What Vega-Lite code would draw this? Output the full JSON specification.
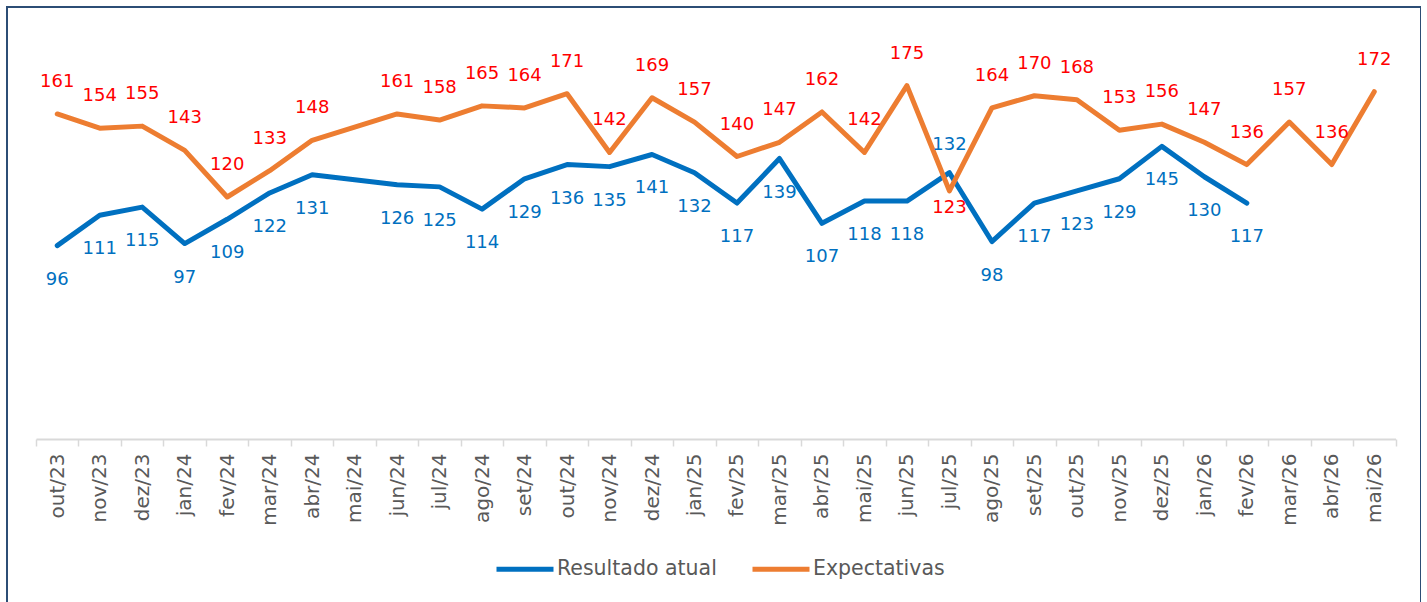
{
  "$schema": "https://vega.github.io/schema/vega-lite/v6.json",
  "width": 1414,
  "height": 600,
  "autosize": {"type": "none"},
  "padding": {"left": 7, "top": 7, "right": 0, "bottom": 0},
  "background": "white",
  "config": {
    "view": {"stroke": "#2C4D75", "strokeWidth": 2},
    "font": "DejaVu Sans"
  },
  "data": {
    "values": [
      {"month": "out/23", "series": "Resultado atual", "value": 96},
      {"month": "nov/23", "series": "Resultado atual", "value": 111},
      {"month": "dez/23", "series": "Resultado atual", "value": 115},
      {"month": "jan/24", "series": "Resultado atual", "value": 97},
      {"month": "fev/24", "series": "Resultado atual", "value": 109},
      {"month": "mar/24", "series": "Resultado atual", "value": 122},
      {"month": "abr/24", "series": "Resultado atual", "value": 131},
      {"month": "mai/24", "series": "Resultado atual", "value": 128.5, "nolabel": true},
      {"month": "jun/24", "series": "Resultado atual", "value": 126},
      {"month": "jul/24", "series": "Resultado atual", "value": 125},
      {"month": "ago/24", "series": "Resultado atual", "value": 114},
      {"month": "set/24", "series": "Resultado atual", "value": 129},
      {"month": "out/24", "series": "Resultado atual", "value": 136},
      {"month": "nov/24", "series": "Resultado atual", "value": 135},
      {"month": "dez/24", "series": "Resultado atual", "value": 141},
      {"month": "jan/25", "series": "Resultado atual", "value": 132},
      {"month": "fev/25", "series": "Resultado atual", "value": 117},
      {"month": "mar/25", "series": "Resultado atual", "value": 139},
      {"month": "abr/25", "series": "Resultado atual", "value": 107},
      {"month": "mai/25", "series": "Resultado atual", "value": 118},
      {"month": "jun/25", "series": "Resultado atual", "value": 118},
      {"month": "jul/25", "series": "Resultado atual", "value": 132},
      {"month": "ago/25", "series": "Resultado atual", "value": 98},
      {"month": "set/25", "series": "Resultado atual", "value": 117},
      {"month": "out/25", "series": "Resultado atual", "value": 123},
      {"month": "nov/25", "series": "Resultado atual", "value": 129},
      {"month": "dez/25", "series": "Resultado atual", "value": 145},
      {"month": "jan/26", "series": "Resultado atual", "value": 130},
      {"month": "fev/26", "series": "Resultado atual", "value": 117},
      {"month": "out/23", "series": "Expectativas", "value": 161},
      {"month": "nov/23", "series": "Expectativas", "value": 154},
      {"month": "dez/23", "series": "Expectativas", "value": 155},
      {"month": "jan/24", "series": "Expectativas", "value": 143},
      {"month": "fev/24", "series": "Expectativas", "value": 120},
      {"month": "mar/24", "series": "Expectativas", "value": 133},
      {"month": "abr/24", "series": "Expectativas", "value": 148},
      {"month": "mai/24", "series": "Expectativas", "value": 154.5, "nolabel": true},
      {"month": "jun/24", "series": "Expectativas", "value": 161},
      {"month": "jul/24", "series": "Expectativas", "value": 158},
      {"month": "ago/24", "series": "Expectativas", "value": 165},
      {"month": "set/24", "series": "Expectativas", "value": 164},
      {"month": "out/24", "series": "Expectativas", "value": 171},
      {"month": "nov/24", "series": "Expectativas", "value": 142},
      {"month": "dez/24", "series": "Expectativas", "value": 169},
      {"month": "jan/25", "series": "Expectativas", "value": 157},
      {"month": "fev/25", "series": "Expectativas", "value": 140},
      {"month": "mar/25", "series": "Expectativas", "value": 147},
      {"month": "abr/25", "series": "Expectativas", "value": 162},
      {"month": "mai/25", "series": "Expectativas", "value": 142},
      {"month": "jun/25", "series": "Expectativas", "value": 175},
      {"month": "jul/25", "series": "Expectativas", "value": 123},
      {"month": "ago/25", "series": "Expectativas", "value": 164},
      {"month": "set/25", "series": "Expectativas", "value": 170},
      {"month": "out/25", "series": "Expectativas", "value": 168},
      {"month": "nov/25", "series": "Expectativas", "value": 153},
      {"month": "dez/25", "series": "Expectativas", "value": 156},
      {"month": "jan/26", "series": "Expectativas", "value": 147},
      {"month": "fev/26", "series": "Expectativas", "value": 136},
      {"month": "mar/26", "series": "Expectativas", "value": 157},
      {"month": "abr/26", "series": "Expectativas", "value": 136},
      {"month": "mai/26", "series": "Expectativas", "value": 172}
    ]
  },
  "encoding": {
    "x": {
      "field": "month",
      "type": "ordinal",
      "scale": {
        "type": "band",
        "paddingInner": 0,
        "paddingOuter": 0,
        "range": [29, 1388.5],
        "domain": ["out/23","nov/23","dez/23","jan/24","fev/24","mar/24","abr/24","mai/24","jun/24","jul/24","ago/24","set/24","out/24","nov/24","dez/24","jan/25","fev/25","mar/25","abr/25","mai/25","jun/25","jul/25","ago/25","set/25","out/25","nov/25","dez/25","jan/26","fev/26","mar/26","abr/26","mai/26"]
      },
      "axis": {
        "title": null,
        "offset": -168,
        "labelAngle": 270,
        "labelFont": "DejaVu Sans",
        "labelFontSize": 20,
        "labelColor": "#595959",
        "labelPadding": 7,
        "tickBand": "extent",
        "tickSize": 7,
        "tickColor": "#D9D9D9",
        "tickWidth": 1.5,
        "domainColor": "#D9D9D9",
        "domainWidth": 2,
        "grid": false
      }
    },
    "y": {
      "field": "value",
      "type": "quantitative",
      "scale": {"domain": [0, 200], "range": [433, 28], "nice": false, "zero": true},
      "axis": null
    }
  },
  "layer": [
    {
      "mark": {"type": "line", "strokeWidth": 5, "strokeCap": "round", "strokeJoin": "round"},
      "encoding": {
        "color": {
          "field": "series",
          "type": "nominal",
          "scale": {"domain": ["Resultado atual", "Expectativas"], "range": ["#0070C0", "#ED7D31"]},
          "legend": {
            "title": null,
            "orient": "none",
            "direction": "horizontal",
            "legendX": 487,
            "legendY": 531,
            "symbolType": "stroke",
            "symbolSize": 3249,
            "symbolStrokeWidth": 5,
            "labelFont": "DejaVu Sans",
            "labelFontSize": 20.5,
            "labelColor": "#595959",
            "labelOffset": 1,
            "columnPadding": 25,
            "padding": 0
          }
        }
      }
    },
    {
      "transform": [{"filter": "datum.series == 'Resultado atual' && datum.month != 'jul/25' && !datum.nolabel"}],
      "mark": {"type": "text", "fill": "#0070C0", "fontSize": 18, "font": "DejaVu Sans", "baseline": "middle", "dy": 34},
      "encoding": {"text": {"field": "value", "type": "quantitative"}}
    },
    {
      "transform": [{"filter": "datum.series == 'Resultado atual' && datum.month == 'jul/25'"}],
      "mark": {"type": "text", "fill": "#0070C0", "fontSize": 18, "font": "DejaVu Sans", "baseline": "middle", "dy": -28},
      "encoding": {"text": {"field": "value", "type": "quantitative"}}
    },
    {
      "transform": [{"filter": "datum.series == 'Expectativas' && datum.month != 'jul/25' && !datum.nolabel"}],
      "mark": {"type": "text", "fill": "#FF0000", "fontSize": 18, "font": "DejaVu Sans", "baseline": "middle", "dy": -32},
      "encoding": {"text": {"field": "value", "type": "quantitative"}}
    },
    {
      "transform": [{"filter": "datum.series == 'Expectativas' && datum.month == 'jul/25'"}],
      "mark": {"type": "text", "fill": "#FF0000", "fontSize": 18, "font": "DejaVu Sans", "baseline": "middle", "dy": 17},
      "encoding": {"text": {"field": "value", "type": "quantitative"}}
    }
  ]
}
